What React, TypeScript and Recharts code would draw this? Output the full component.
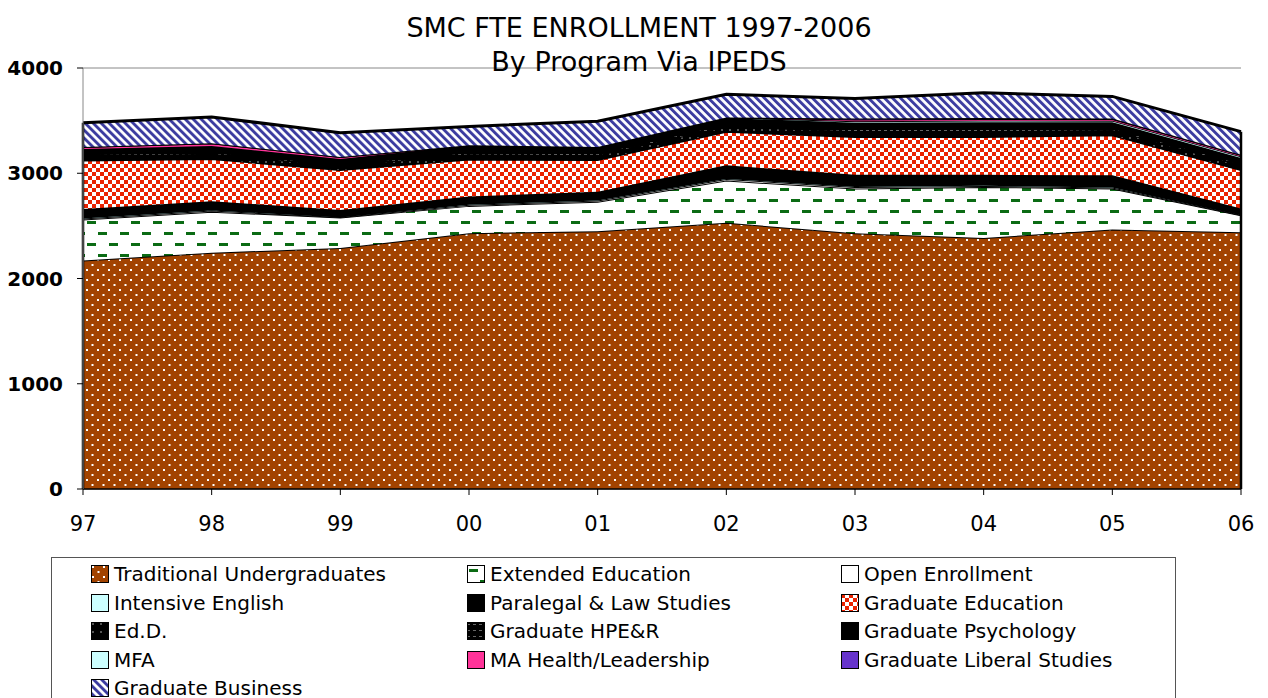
import React from "react";
import {
  AreaChart,
  Area,
  XAxis,
  YAxis,
  CartesianGrid,
  ReferenceLine,
} from "recharts";

const years = ["97", "98", "99", "00", "01", "02", "03", "04", "05", "06"];
const yTicks = [0, 1000, 2000, 3000, 4000];

const tradUG = [2170, 2245, 2290, 2430, 2450, 2530, 2430, 2385, 2465, 2440];
const extEd = [390, 390, 290, 260, 280, 400, 425, 485, 390, 160];
const openEnr = [10, 10, 5, 10, 10, 15, 15, 10, 10, 5];
const intEng = [10, 10, 5, 10, 10, 10, 10, 10, 10, 5];
const paralegal = [80, 80, 60, 70, 75, 120, 105, 95, 105, 55];
const gradEd = [460, 400, 380, 350, 300, 320, 360, 360, 380, 365];
const edD = [45, 50, 40, 50, 45, 50, 55, 55, 50, 45];
const hper = [15, 15, 15, 20, 20, 25, 25, 25, 20, 20];
const psych = [50, 60, 50, 65, 60, 55, 55, 60, 55, 50];
const mfa = [0, 0, 0, 0, 0, 5, 15, 15, 15, 15];
const maHealth = [20, 25, 20, 0, 0, 0, 15, 15, 15, 15];
const libStudies = [0, 0, 0, 0, 0, 0, 10, 10, 5, 0];
const business = [230, 250, 230, 180, 245, 220, 190, 240, 210, 220];

const series = [
  { key: "tradUG", name: "Traditional Undergraduates", values: tradUG, fill: "url(#pDots)" },
  { key: "extEd", name: "Extended Education", values: extEd, fill: "url(#pDash)" },
  { key: "openEnr", name: "Open Enrollment", values: openEnr, fill: "#ffffff" },
  { key: "intEng", name: "Intensive English", values: intEng, fill: "#ccffff" },
  { key: "paralegal", name: "Paralegal & Law Studies", values: paralegal, fill: "#000000" },
  { key: "gradEd", name: "Graduate Education", values: gradEd, fill: "url(#pCheck)" },
  { key: "edD", name: "Ed.D.", values: edD, fill: "url(#pEdD)" },
  { key: "hper", name: "Graduate HPE&R", values: hper, fill: "url(#pHper)" },
  { key: "psych", name: "Graduate Psychology", values: psych, fill: "#000000" },
  { key: "mfa", name: "MFA", values: mfa, fill: "#ccffff" },
  { key: "maHealth", name: "MA Health/Leadership", values: maHealth, fill: "#ff3399" },
  { key: "libStudies", name: "Graduate Liberal Studies", values: libStudies, fill: "#6633cc" },
  { key: "business", name: "Graduate Business", values: business, fill: "url(#pHatch)" },
];

// legend is laid out row by row, three columns
const legendOrder = [
  "tradUG", "extEd", "openEnr",
  "intEng", "paralegal", "gradEd",
  "edD", "hper", "psych",
  "mfa", "maHealth", "libStudies",
  "business",
];

const data = years.map((year, i) => {
  const row: Record<string, string | number> = { year };
  series.forEach((s) => {
    row[s.key] = s.values[i];
  });
  return row;
});

const totals = years.map((_, i) => series.reduce((sum, s) => sum + s.values[i], 0));

const FONT = '"DejaVu Sans", Verdana, sans-serif';

const Patterns = () => (
  <svg width="0" height="0" style={{ position: "absolute" }}>
    <defs>
      <pattern id="pDots" width="11" height="10" patternUnits="userSpaceOnUse">
        <rect width="11" height="10" fill="#a24300" />
        <rect x="1" y="1" width="2" height="2" fill="#ffffff" />
        <rect x="6.5" y="6" width="2" height="2" fill="#ffffff" />
      </pattern>
      <pattern id="pDash" width="22" height="22" patternUnits="userSpaceOnUse">
        <rect width="22" height="22" fill="#ffffff" />
        <rect x="2" y="4" width="9" height="3" fill="#0b6b14" />
        <rect x="13" y="15" width="9" height="3" fill="#0b6b14" />
      </pattern>
      <pattern id="pCheck" width="8" height="8" patternUnits="userSpaceOnUse">
        <rect width="8" height="8" fill="#ffffff" />
        <rect x="0" y="0" width="4" height="4" fill="#ea2200" />
        <rect x="4" y="4" width="4" height="4" fill="#ea2200" />
      </pattern>
      <pattern
        id="pHatch"
        width="5.66"
        height="10"
        patternUnits="userSpaceOnUse"
        patternTransform="rotate(-45)"
      >
        <rect width="5.66" height="10" fill="#ffffff" />
        <rect x="0" y="0" width="2.9" height="10" fill="#3c3ca0" />
      </pattern>
      <pattern id="pEdD" width="8" height="8" patternUnits="userSpaceOnUse">
        <rect width="8" height="8" fill="#000000" />
        <rect x="1" y="1" width="2" height="2" fill="#555555" />
      </pattern>
      <pattern id="pHper" width="6" height="6" patternUnits="userSpaceOnUse">
        <rect width="6" height="6" fill="#000000" />
        <rect x="0" y="2" width="3" height="1" fill="#666666" />
      </pattern>
    </defs>
  </svg>
);

const Swatch = ({ fill }: { fill: string }) => (
  <svg width="18" height="18" style={{ display: "block" }}>
    <rect x="0.5" y="0.5" width="17" height="17" fill={fill} stroke="#000" strokeWidth="1" />
  </svg>
);

const App: React.FC = () => {
  const colX = [40, 416, 790];
  return (
    <div style={{ position: "relative", width: 1252, height: 690, fontFamily: FONT }}>
      <style>{`body{overflow:hidden}`}</style>
      <Patterns />
      <AreaChart
        width={1252}
        height={531}
        data={data}
        margin={{ top: 60, right: 19, left: 0, bottom: 0 }}
      >
        <CartesianGrid vertical={false} stroke="#888888" strokeWidth={1} />
        <XAxis
          dataKey="year"
          axisLine={{ stroke: "#000", strokeWidth: 1.5 }}
          tickLine={{ stroke: "#000" }}
          tickSize={6}
          tickMargin={21}
          height={50}
          interval={0}
          tick={{ fontSize: 21, fill: "#000", fontFamily: FONT }}
        />
        <YAxis
          width={75}
          domain={[0, 4000]}
          ticks={yTicks}
          axisLine={{ stroke: "#888888" }}
          tickLine={{ stroke: "#000" }}
          tickSize={6}
          tickMargin={14}
          tick={{ fontSize: 20, fontWeight: 700, fill: "#000", fontFamily: FONT }}
        />
        {series.map((s) => (
          <Area
            key={s.key}
            type="linear"
            dataKey={s.key}
            name={s.name}
            stackId="1"
            fill={s.fill}
            fillOpacity={1}
            stroke="#000"
            strokeWidth={s.key === "business" ? 3 : 2}
            dot={false}
            activeDot={false}
            isAnimationActive={false}
          />
        ))}
        <ReferenceLine
          segment={[
            { x: years[0], y: 0 },
            { x: years[0], y: totals[0] },
          ]}
          stroke="#000"
          strokeWidth={2.5}
        />
        <ReferenceLine
          segment={[
            { x: years[years.length - 1], y: 0 },
            { x: years[years.length - 1], y: totals[totals.length - 1] },
          ]}
          stroke="#000"
          strokeWidth={2.5}
        />
      </AreaChart>

      <div
        style={{
          position: "absolute",
          left: 31,
          top: 3,
          width: 1200,
          textAlign: "center",
          fontSize: 27,
          lineHeight: "34px",
          color: "#000",
        }}
      >
        <div>SMC FTE ENROLLMENT 1997-2006</div>
        <div>By Program Via IPEDS</div>
      </div>

      <div
        style={{
          position: "absolute",
          left: 43,
          top: 549,
          width: 1125,
          height: 170,
          border: "1px solid #555",
          boxSizing: "border-box",
          background: "#fff",
        }}
      >
        {legendOrder.map((key, i) => {
          const s = series.find((d) => d.key === key)!;
          const col = i % 3;
          const row = Math.floor(i / 3);
          return (
            <div
              key={key}
              style={{
                position: "absolute",
                left: colX[col] - 1,
                top: 16 + row * 28.6 - 12,
                height: 24,
                display: "flex",
                alignItems: "center",
                gap: 5,
                fontSize: 20,
                color: "#000",
                whiteSpace: "nowrap",
              }}
            >
              <Swatch fill={s.fill} />
              <span>{s.name}</span>
            </div>
          );
        })}
      </div>
    </div>
  );
};

export default App;
